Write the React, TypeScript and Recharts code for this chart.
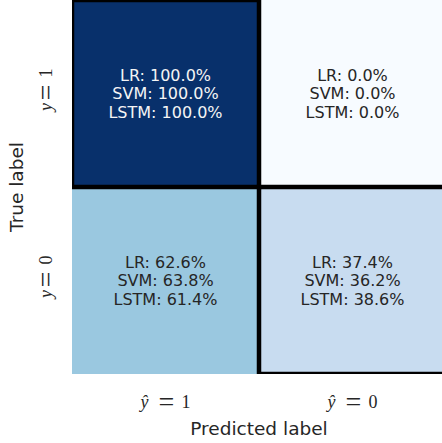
import { BarChart, Bar, XAxis, YAxis, ReferenceArea, Label } from 'recharts';

// columns: predicted class, left to right
const predictedClasses = ['1', '0'];
// rows: true class, bottom to top
const trueClasses = ['0', '1'];
const models = ['LR', 'SVM', 'LSTM'];

// percentages, [true row][predicted column]
const lrRates = [
  [62.6, 37.4],
  [100.0, 0.0],
];
const svmRates = [
  [63.8, 36.2],
  [100.0, 0.0],
];
const lstmRates = [
  [61.4, 38.6],
  [100.0, 0.0],
];
// every true-class row fills one unit of the y axis
const rowShare = [1, 1];

const modelRates = [lrRates, svmRates, lstmRates];

const tableData = predictedClasses.map((pred, col) => ({
  pred,
  col,
  row0: rowShare[0],
  row1: rowShare[1],
}));

// Blues colormap shades per cell, [row][col]
const cellFills = [
  ['#9ac8e0', '#c8dcf0'],
  ['#08306b', '#f7fbff'],
];
const cellInk = [
  ['#262626', '#262626'],
  ['#f5f5f5', '#262626'],
];

const FONT = '"DejaVu Sans", sans-serif';
const MATH_FONT = '"Liberation Serif", serif';
const INK = '#262626';

function MathTerm({ cx, cy, symbol, value, symbolOffset, rotate }: any) {
  return (
    <g transform={`translate(${cx},${cy}) rotate(${rotate})`} fill={INK} fontFamily={MATH_FONT}>
      <text x={symbolOffset} y={5.5} fontSize={18} fontStyle="italic" textAnchor="middle">
        {symbol}
      </text>
      <text x={0} y={8} fontSize={28} textAnchor="middle">
        =
      </text>
      <text x={19.5} y={5.5} fontSize={18} textAnchor="middle">
        {value}
      </text>
    </g>
  );
}

const XTick = ({ x, y, payload }: any) => (
  <MathTerm cx={x + 1} cy={y + 28.5} symbol="ŷ" value={payload.value} symbolOffset={-22} rotate={0} />
);

const YTick = ({ x, y, payload }: any) => (
  <MathTerm
    cx={x - 25.5}
    cy={y - 1}
    symbol="y"
    value={trueClasses[Math.floor(payload.value)]}
    symbolOffset={-14.5}
    rotate={-90}
  />
);

const makeCellShape = (row: number) => (props: any) => {
  const { x, y, width, height, payload } = props;
  const col = payload.col;
  const cx = x + width / 2;
  const cy = y + height / 2;
  const lines = modelRates.map(
    (rates, m) => `${models[m]}: ${rates[row][col].toFixed(1)}%`
  );
  return (
    <g>
      <rect x={x} y={y} width={width} height={height} fill={cellFills[row][col]} />
      <text fontFamily={FONT} fontSize={16} fill={cellInk[row][col]} textAnchor="middle">
        {lines.map((line, i) => (
          <tspan key={i} x={cx} y={cy + 5.8 + (i - 1) * 18.3}>
            {line}
          </tspan>
        ))}
      </text>
    </g>
  );
};

const trueAxisLabel = ({ viewBox }: any) => {
  const lx = viewBox.x + 23;
  const ly = viewBox.y + viewBox.height / 2;
  return (
    <text
      x={lx}
      y={ly}
      transform={`rotate(-90 ${lx} ${ly})`}
      textAnchor="middle"
      fontFamily={FONT}
      fontSize={18.5}
      fill={INK}
    >
      True label
    </text>
  );
};

const predAxisLabel = ({ viewBox }: any) => (
  <text
    x={viewBox.x + viewBox.width / 2}
    y={viewBox.y + 60.5}
    textAnchor="middle"
    fontFamily={FONT}
    fontSize={18.5}
    fill={INK}
  >
    Predicted label
  </text>
);

// correctly classified cells get a black frame
const highlighted = trueClasses.flatMap((t, row) =>
  predictedClasses.filter((p) => p === t).map((p) => ({ row, pred: p }))
);

export default function App() {
  return (
    <div
      style={{
        position: 'absolute',
        left: 0,
        top: 0,
        width: 442,
        height: 443,
        overflow: 'hidden',
        background: '#fff',
      }}
    >
      <BarChart
        width={450}
        height={443}
        data={tableData}
        margin={{ top: 0, right: 4, bottom: 0, left: 0 }}
        barCategoryGap={0}
        barGap={0}
      >
        <XAxis
          dataKey="pred"
          height={69}
          axisLine={false}
          tickLine={false}
          tickSize={0}
          tickMargin={0}
          tick={<XTick />}
        >
          <Label content={predAxisLabel} />
        </XAxis>
        <YAxis
          type="number"
          domain={[0, trueClasses.length]}
          ticks={[0.5, 1.5]}
          width={72}
          axisLine={false}
          tickLine={false}
          tickSize={0}
          tickMargin={0}
          tick={<YTick />}
        >
          <Label content={trueAxisLabel} />
        </YAxis>
        <Bar dataKey="row0" stackId="cm" shape={makeCellShape(0)} isAnimationActive={false} />
        <Bar dataKey="row1" stackId="cm" shape={makeCellShape(1)} isAnimationActive={false} />
        {highlighted.map((h) => (
          <ReferenceArea
            key={`${h.row}-${h.pred}`}
            x1={h.pred}
            x2={h.pred}
            y1={h.row}
            y2={h.row + 1}
            fill="none"
            stroke="#000"
            strokeWidth={4.5}
            ifOverflow="hidden"
            zIndex={350}
          />
        ))}
      </BarChart>
    </div>
  );
}
